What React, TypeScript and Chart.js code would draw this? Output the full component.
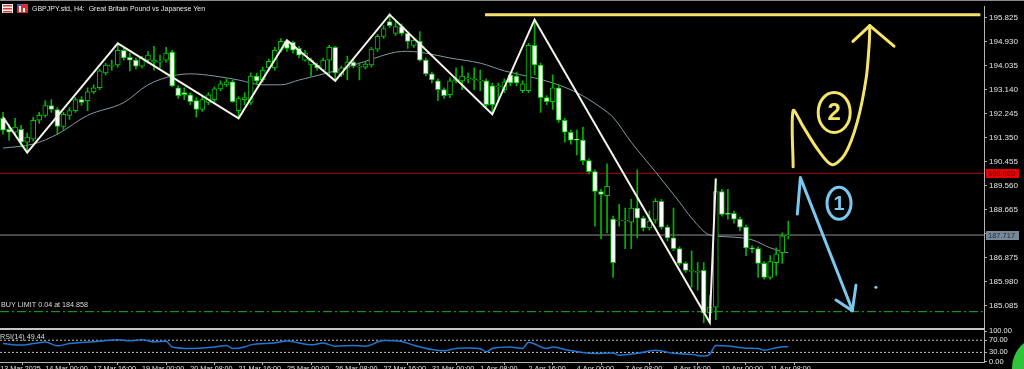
import React, { useEffect, useRef } from "react";
import { Chart, registerables } from "chart.js";

Chart.register(...registerables);

const FONT = '"Liberation Sans", Arial, sans-serif';

// ---- candle data (GBPJPY H4) ----
const OPEN = [
  192.07, 191.66, 191.55, 191.66, 191.18, 191.29, 192.0, 192.18, 192.55, 192.4,
  191.77, 192.18, 192.36, 192.77, 192.73, 193.06, 193.21, 193.76, 194.02, 194.06,
  194.61, 194.35, 194.24, 194.02, 194.24, 194.17, 194.17, 194.24, 194.54, 193.21,
  193.03, 192.95, 192.73, 192.4, 192.66, 192.77, 193.17, 193.32, 193.43, 192.36,
  192.77, 192.66, 193.65, 193.5, 193.95, 193.95, 194.61, 194.94, 194.91, 194.68,
  194.24, 194.06, 194.06, 193.87, 194.24, 194.72, 193.69, 193.95, 194.17, 193.98,
  193.98, 194.06, 194.65, 195.13, 195.68, 195.24, 195.49, 195.24, 194.79, 194.94,
  194.24, 193.73, 193.47, 193.14, 192.95, 193.47, 193.47, 193.54, 193.5, 193.47,
  193.47, 193.28, 193.25, 193.14, 193.69, 193.65, 193.1, 193.1, 194.79, 194.06,
  192.84, 192.69, 193.21, 192.0, 191.55, 191.29, 191.26, 190.49, 190.08, 189.34,
  189.19, 188.31, 188.24, 188.24, 188.2, 188.72, 188.35, 187.98, 188.27, 188.97,
  188.01, 187.61, 187.21, 186.66, 186.36, 186.32, 186.4, 184.81, 185.03, 189.34,
  188.53, 188.53, 188.31, 188.01, 187.24, 187.21, 186.66, 186.14, 186.69, 187.06,
  187.69,
];
const HIGH = [
  192.29, 191.85, 192.07, 191.81, 191.52, 192.11, 192.29, 192.73, 192.77, 192.47,
  192.29, 192.47, 192.84, 192.88, 193.21, 193.32, 193.91, 194.13, 194.24, 194.87,
  194.68, 194.5, 194.32, 194.39, 194.57, 194.76, 194.43, 194.72, 194.61, 193.28,
  193.21, 193.03, 192.84, 192.88, 193.03, 193.25, 193.47, 193.54, 193.5, 192.88,
  193.03, 193.76, 193.76, 193.98, 194.28, 194.72, 195.05, 194.98, 194.94, 194.76,
  194.61, 194.32, 194.13, 194.32, 194.79, 194.76, 194.02, 194.39, 194.24, 194.13,
  194.2, 194.72, 195.2, 195.53, 195.97, 195.72, 195.6, 195.31, 195.05, 195.31,
  194.32, 193.8, 193.54, 193.21, 193.58, 193.95, 194.02, 193.76, 193.95, 193.87,
  193.54, 193.39, 193.39, 193.54, 193.76, 193.8, 193.47, 194.87, 195.75, 194.13,
  192.92, 193.69, 193.32, 192.07, 191.63, 191.63, 191.74, 190.56, 190.15, 189.42,
  190.37, 188.42, 188.86, 188.72, 189.05, 190.15, 188.42, 188.61, 189.08, 189.05,
  188.09, 188.72, 187.28, 186.73, 187.13, 186.69, 186.69, 185.48, 189.82, 189.42,
  189.42, 188.61, 188.39, 188.09, 187.32, 187.28, 186.73, 186.95, 187.24, 187.8,
  188.24,
];
const LOW = [
  191.48, 191.26, 191.44, 191.0, 190.82, 191.22, 191.88, 192.11, 192.29, 191.48,
  191.66, 192.03, 192.29, 192.55, 192.36, 192.99, 193.14, 193.69, 193.87, 193.98,
  194.24, 193.84, 193.91, 193.95, 194.13, 193.87, 193.95, 194.17, 193.25, 192.81,
  192.77, 192.58, 192.11, 192.33, 192.58, 192.69, 193.1, 193.25, 192.66, 192.07,
  192.58, 192.58, 193.32, 193.43, 193.84, 193.87, 194.54, 194.57, 194.5, 194.32,
  194.2, 193.65, 193.87, 193.84, 193.65, 193.47, 193.62, 193.5, 193.95, 193.5,
  193.91, 193.98, 194.57, 195.05, 195.46, 195.16, 195.16, 194.68, 194.72, 194.2,
  193.65, 193.39, 192.73, 192.81, 192.84, 193.39, 193.14, 193.39, 193.14, 193.1,
  192.51, 192.22, 192.66, 193.03, 193.28, 193.28, 193.03, 193.03, 193.69, 192.29,
  192.58, 192.4, 191.92, 191.18, 191.11, 190.71, 190.34, 190.01, 188.05, 187.57,
  187.8, 186.14, 188.05, 187.21, 187.21, 187.61, 187.87, 187.9, 188.16, 187.94,
  187.5, 187.13, 186.58, 186.32, 185.77, 185.66, 184.45, 184.45, 184.56, 188.42,
  188.31, 188.16, 187.87, 186.95, 187.06, 186.14, 186.07, 186.07, 186.21, 186.66,
  187.57,
];
const CLOSE = [
  191.63, 191.55, 191.74, 191.18, 191.37, 192.0, 192.18, 192.55, 192.4, 191.77,
  192.22, 192.36, 192.77, 192.66, 193.06, 193.21, 193.84, 194.06, 194.06, 194.61,
  194.32, 194.24, 194.02, 194.32, 194.43, 194.24, 194.2, 194.5, 193.28, 192.92,
  192.95, 192.69, 192.4, 192.77, 192.95, 193.17, 193.36, 193.43, 192.69, 192.81,
  192.84, 193.65, 193.47, 193.87, 194.2, 194.61, 194.94, 194.68, 194.61, 194.43,
  194.5, 194.24, 193.95, 194.24, 194.72, 193.76, 193.95, 194.17, 194.02, 194.02,
  194.09, 194.65, 195.13, 195.42, 195.53, 195.49, 195.24, 194.94, 194.98, 194.24,
  193.73, 193.5, 193.14, 192.92, 193.47, 193.54, 193.65, 193.58, 193.54, 193.5,
  192.58, 192.58, 193.28, 193.43, 193.39, 193.39, 193.36, 194.79, 194.06, 192.84,
  192.69, 193.21, 192.0, 191.55, 191.26, 191.26, 190.49, 190.08, 189.34, 189.23,
  189.53, 186.69, 188.27, 188.27, 188.72, 188.35, 187.98, 188.24, 188.97, 188.01,
  187.61, 187.21, 186.66, 186.4, 186.4, 186.36, 184.81, 185.03, 189.34, 188.49,
  188.49, 188.31, 188.01, 187.24, 187.21, 186.66, 186.14, 186.73, 187.02, 187.69,
  187.72,
];

// moving average (read at sample bars)
const MA_IDX = [0, 5, 9, 14, 20, 24, 28, 31, 35, 39, 43, 46, 49, 55, 60, 65, 67, 70, 74, 79, 83, 88, 91, 95, 99, 101, 104, 108, 112, 114, 117, 120, 124, 127, 129, 130];
const MA_VAL = [190.96, 191.11, 191.48, 192.18, 192.66, 193.32, 193.65, 193.73, 193.65, 193.5, 193.32, 193.32, 193.5, 193.84, 194.2, 194.54, 194.57, 194.5, 194.32, 194.13, 193.84, 193.58, 193.39, 193.03, 192.47, 192.11, 191.18, 190.08, 188.94, 188.35, 187.72, 187.65, 187.54, 187.24, 187.1, 187.06];

// zigzag pivots
const ZZ_IDX = [0, 4, 19, 39, 47, 55, 64, 81, 88, 117, 118];
const ZZ_VAL = [192.11, 190.79, 194.87, 192.07, 194.98, 193.47, 195.94, 192.22, 195.75, 184.45, 189.82];

// RSI(14) (read at sample bars)
const RSI_IDX = [0, 3, 5, 7, 9, 11, 13, 16, 19, 21, 23, 25, 27, 28, 31, 35, 37, 38, 40, 41, 45, 47, 49, 51, 53, 55, 58, 60, 63, 66, 68, 71, 73, 75, 77, 79, 80, 81, 84, 86, 87, 90, 91, 93, 98, 101, 102, 105, 108, 111, 114, 116, 117, 118, 120, 123, 125, 126, 128, 130];
const RSI_VAL = [59, 54, 59, 64.5, 51.5, 59, 62.5, 66.7, 72, 68, 72, 64.5, 66.7, 48, 43, 48, 52.6, 43, 48, 54.8, 61.3, 67.8, 61, 54.8, 61, 50.5, 52.6, 50.5, 69, 65.7, 53.7, 39.6, 35.3, 43, 44.5, 42, 32, 43, 48, 43, 63.5, 43, 48, 39.6, 26.7, 28, 21, 27, 37, 27, 23.5, 18, 23.5, 52.6, 51, 44, 43, 37, 45.5, 49.44];
const RSI_LEVELS = [70, 30];

// axes
const PRICE_TICKS = [195.825, 194.93, 194.035, 193.14, 192.245, 191.35, 190.455, 189.56, 188.665, 187.77, 186.875, 185.98, 185.085];
const RSI_TICKS = [100, 70, 30, 0];
const DATE_TICK_IDX = [-0.45, 7, 15, 23, 31, 39, 47, 55, 63, 71, 79, 87, 95, 103, 111, 119, 127];
const DATE_LABELS = ["13 Mar 2025", "14 Mar 00:00", "17 Mar 16:00", "19 Mar 00:00", "20 Mar 08:00", "21 Mar 16:00", "25 Mar 00:00", "26 Mar 08:00", "27 Mar 16:00", "31 Mar 00:00", "1 Apr 08:00", "2 Apr 16:00", "4 Apr 00:00", "7 Apr 08:00", "8 Apr 16:00", "10 Apr 00:00", "11 Apr 08:00"];

// horizontal price levels: pending level, bid line, buy limit
const LEVELS = [190.02, 187.717, 184.858];
const LEVEL_TEXT = ["190.020", "187.717"];
const BUY_LIMIT_TEXT = "BUY LIMIT 0.04 at 184.858";
const HEADER = "GBPJPY.std, H4:  Great Britain Pound vs Japanese Yen";

// hand-drawn annotations (bar index, price)
const YELLOW_LEVEL = { from: 79.8, to: 161.8, price: 195.935 };
const Y_STROKE_IDX = [130.8, 130.8, 132.5, 134.9, 137.25, 139.4, 141.4, 142.9, 143.4, 143.5];
const Y_STROKE_VAL = [190.26, 192.36, 191.75, 190.9, 190.34, 190.74, 191.92, 193.58, 194.87, 195.53];
const Y_HEAD_IDX = [140.7, 143.5, 147.5];
const Y_HEAD_VAL = [194.94, 195.53, 194.76];
const B_STROKE_IDX = [131.5, 132.0, 140.6];
const B_STROKE_VAL = [188.5, 189.86, 184.92];
const B_HEAD_IDX = [137.9, 140.6, 141.2];
const B_HEAD_VAL = [185.29, 184.89, 185.84];
const Y_CIRCLE = { idx: 137.6, price: 192.29, text: "2" };
const B_CIRCLE = { idx: 138.4, price: 188.9, text: "1" };
const B_DOT = { idx: 144.5, price: 185.77 };

const X_MIN = -0.497;
const X_MAX = 162.4;

const YELLOW = "#f6e46a";
const BLUE = "#7cc7ee";

export default function App() {
  const ref = useRef<HTMLCanvasElement>(null);

  useEffect(() => {
    const canvas = ref.current;
    if (!canvas) return;
    const idx = OPEN.map((_, i) => i);
    const pts = (xs: number[], ys: number[]) => xs.map((x, i) => ({ x, y: ys[i] }));
    const hline = (v: number, a = X_MIN, b = X_MAX) => [{ x: a, y: v }, { x: b, y: v }];
    const lineBase = { type: "line" as const, pointRadius: 0, fill: false };

    const extras = {
      id: "extras",
      beforeDraw(chart: any) {
        const c = chart.ctx;
        c.save();
        c.fillStyle = "#000";
        c.fillRect(0, 0, chart.width, chart.height);
        c.restore();
      },
      afterDraw(chart: any) {
        const c = chart.ctx;
        const xs = chart.scales.x, ys = chart.scales.y, rs = chart.scales.yRsi;
        c.save();
        // frame lines
        c.fillStyle = "#8a8a8a";
        c.fillRect(0, 0, chart.width, 1);
        c.fillStyle = "#c4c4c4";
        c.fillRect(0, Math.round(ys.bottom) - 1, xs.right + 1, 2);

        // header icons
        c.fillStyle = "#f0f0f0";
        c.fillRect(2, 4, 11, 9);
        c.fillStyle = "#e03a3a";
        for (let k = 0; k < 3; k++) c.fillRect(3, 5 + k * 3, 9, 1.5);
        c.fillStyle = "#d83030";
        c.fillRect(17, 4, 11, 9);
        c.fillStyle = "#ffffff";
        c.fillRect(19, 6, 2, 6);
        c.fillRect(23, 8, 2, 4);
        c.fillStyle = "#4060c0";
        c.fillRect(17, 4, 4, 2);

        c.font = `7px ${FONT}`;
        c.textAlign = "left";
        c.textBaseline = "middle";
        c.fillStyle = "#e6e6e6";
        c.fillText(HEADER, 32, 9);

        // buy limit text
        const by = ys.getPixelForValue(LEVELS[2]);
        c.font = `7.2px ${FONT}`;
        c.fillStyle = "#dcdcdc";
        c.fillText(BUY_LIMIT_TEXT, 1, by - 6.5);

        // RSI label
        c.fillText(`RSI(14) ${RSI_VAL[RSI_VAL.length - 1]}`, 0, rs.top + 8);

        // price boxes on axis
        const box = (v: number, txt: string, bg: string, fg: string) => {
          const py = Math.round(ys.getPixelForValue(v));
          c.fillStyle = bg;
          c.fillRect(986, py - 4, 33, 9);
          c.fillStyle = fg;
          c.font = `7.5px ${FONT}`;
          c.fillText(txt, 988, py + 0.5);
        };
        box(LEVELS[0], LEVEL_TEXT[0], "#e80000", "#5a0000");
        box(LEVELS[1], LEVEL_TEXT[1], "#778899", "#1c2a36");

        // hand drawn circles
        const ell = (o: any, rx: number, ry: number, col: string, size: number) => {
          const cx = xs.getPixelForValue(o.idx);
          const cy = ys.getPixelForValue(o.price);
          c.strokeStyle = col;
          c.lineWidth = 3;
          c.beginPath();
          c.ellipse(cx, cy, rx, ry, 0, 0, Math.PI * 2);
          c.stroke();
          c.fillStyle = col;
          c.font = `bold ${size}px ${FONT}`;
          c.textAlign = "center";
          c.textBaseline = "middle";
          c.fillText(o.text, cx, cy + 1);
          c.textAlign = "left";
        };
        ell(Y_CIRCLE, 16, 20, YELLOW, 24);
        ell(B_CIRCLE, 12, 16, BLUE, 20);
        c.fillStyle = BLUE;
        c.beginPath();
        c.arc(xs.getPixelForValue(B_DOT.idx), ys.getPixelForValue(B_DOT.price), 1.6, 0, Math.PI * 2);
        c.fill();

        // green button at corner
        c.fillStyle = "#2fc43c";
        c.beginPath();
        c.arc(1044, 368, 32, 0, Math.PI * 2);
        c.fill();
        c.restore();
      },
    };

    const chart = new Chart(canvas, {
      type: "bar",
      data: {
        datasets: [
          { ...lineBase, data: hline(LEVELS[0]), borderColor: "#b40000", borderWidth: 1, order: 30 },
          { ...lineBase, data: hline(LEVELS[1]), borderColor: "#8e8e8e", borderWidth: 1, order: 30 },
          { ...lineBase, data: hline(LEVELS[2]), borderColor: "#20b020", borderWidth: 1, borderDash: [9, 3, 2, 3], order: 30 },
          { ...lineBase, data: pts(MA_IDX, MA_VAL), borderColor: "#8199a3", borderWidth: 1, cubicInterpolationMode: "monotone", order: 25 },
          {
            type: "bar",
            data: idx.map((i) => ({ x: i, y: [LOW[i], HIGH[i]] })),
            backgroundColor: "#00b400",
            barThickness: 1,
            grouped: false,
            order: 20,
          },
          {
            type: "bar",
            data: idx.map((i) => ({ x: i, y: [OPEN[i], CLOSE[i]] })),
            backgroundColor: idx.map((i) => (CLOSE[i] >= OPEN[i] ? "#000000" : "#ffffff")),
            borderColor: "#00c800",
            borderWidth: 1,
            borderSkipped: false,
            barThickness: 5,
            grouped: false,
            order: 19,
          },
          { ...lineBase, data: pts(ZZ_IDX, ZZ_VAL), borderColor: "#f3f3e8", borderWidth: 2, order: 10 },
          { ...lineBase, yAxisID: "yRsi", data: hline(RSI_LEVELS[0]), borderColor: "#bdbdbd", borderWidth: 1, borderDash: [2, 2], order: 12 },
          { ...lineBase, yAxisID: "yRsi", data: hline(RSI_LEVELS[1]), borderColor: "#bdbdbd", borderWidth: 1, borderDash: [2, 2], order: 12 },
          { ...lineBase, yAxisID: "yRsi", data: pts(RSI_IDX, RSI_VAL), borderColor: "#1f78d4", borderWidth: 1.5, cubicInterpolationMode: "monotone", order: 11 },
          { ...lineBase, data: hline(YELLOW_LEVEL.price, YELLOW_LEVEL.from, YELLOW_LEVEL.to), borderColor: YELLOW, borderWidth: 3, order: 2 },
          { ...lineBase, data: pts(Y_STROKE_IDX, Y_STROKE_VAL), borderColor: YELLOW, borderWidth: 3, tension: 0.3, borderCapStyle: "round", borderJoinStyle: "round", order: 2 },
          { ...lineBase, data: pts(Y_HEAD_IDX, Y_HEAD_VAL), borderColor: YELLOW, borderWidth: 3, borderCapStyle: "round", borderJoinStyle: "round", order: 2 },
          { ...lineBase, data: pts(B_STROKE_IDX, B_STROKE_VAL), borderColor: BLUE, borderWidth: 3, borderCapStyle: "round", borderJoinStyle: "round", order: 2 },
          { ...lineBase, data: pts(B_HEAD_IDX, B_HEAD_VAL), borderColor: BLUE, borderWidth: 3, borderCapStyle: "round", borderJoinStyle: "round", order: 2 },
        ] as any,
      },
      options: {
        responsive: false,
        animation: false,
        devicePixelRatio: 1,
        events: [],
        layout: { padding: { top: 3, left: 0, right: 0, bottom: 0 } },
        plugins: { legend: { display: false }, tooltip: { enabled: false } },
        scales: {
          x: {
            type: "linear",
            min: X_MIN,
            max: X_MAX,
            offset: false,
            grid: { drawOnChartArea: false, drawTicks: true, tickLength: 3, color: "#b4b4b4" },
            border: { display: true, color: "#b4b4b4" },
            ticks: {
              color: "#e2e2e2",
              font: { size: 7.2, family: FONT },
              align: "start",
              maxRotation: 0,
              autoSkip: false,
              padding: 0,
              callback: (_v: any, i: number) => DATE_LABELS[i],
            },
            afterBuildTicks: (s: any) => {
              s.ticks = DATE_TICK_IDX.map((v) => ({ value: v }));
            },
            afterFit: (s: any) => {
              s.height = 16;
            },
          },
          y: {
            type: "linear",
            position: "right",
            stack: "panes",
            stackWeight: 326,
            min: 184.199,
            max: 196.231,
            grid: { drawOnChartArea: false, drawTicks: true, tickLength: 3, color: "#b4b4b4" },
            border: { display: true, color: "#b4b4b4" },
            ticks: {
              color: "#e6e6e6",
              font: { size: 8, family: FONT },
              padding: 2,
              autoSkip: false,
              callback: (v: any) => Number(v).toFixed(3),
            },
            afterBuildTicks: (s: any) => {
              s.ticks = PRICE_TICKS.map((v) => ({ value: v }));
            },
            afterFit: (s: any) => {
              s.width = 40;
            },
          },
          yRsi: {
            type: "linear",
            position: "right",
            stack: "panes",
            stackWeight: 33,
            min: -1.6,
            max: 105.9,
            grid: { drawOnChartArea: false, drawTicks: true, tickLength: 3, color: "#b4b4b4" },
            border: { display: true, color: "#b4b4b4" },
            ticks: {
              color: "#e6e6e6",
              font: { size: 7.5, family: FONT },
              padding: 2,
              autoSkip: false,
              callback: (v: any) => Number(v).toFixed(2),
            },
            afterBuildTicks: (s: any) => {
              s.ticks = RSI_TICKS.map((v) => ({ value: v }));
            },
            afterFit: (s: any) => {
              s.width = 40;
            },
          },
        },
      } as any,
      plugins: [extras],
    });

    return () => chart.destroy();
  }, []);

  return (
    <div style={{ position: "fixed", left: 0, top: 0, width: 1024, height: 369, overflow: "hidden", background: "#000" }}>
      <canvas ref={ref} width={1024} height={378} style={{ display: "block" }} />
    </div>
  );
}
